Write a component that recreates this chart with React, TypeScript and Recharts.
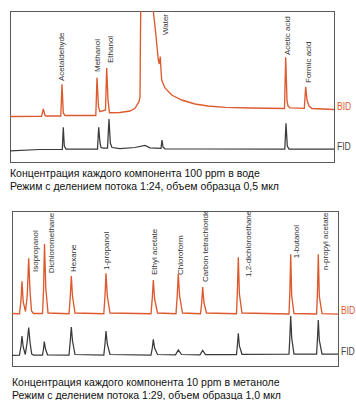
import { LineChart, Line, XAxis, YAxis, LabelList } from 'recharts';

// retention position (t) vs detector signal (s)
const waterBid: [number, number][] = [
  [0, 45.5], [31.5, 45.7], [33.3, 53], [35, 46.5], [36, 46],
  [50.8, 46], [52, 77.7], [53.3, 49], [55, 46.5],
  [85.8, 46.5], [87, 84.3], [88.5, 55], [90, 50.3], [95.5, 52], [96.7, 94], [98, 62], [99.5, 49.3],
  [110, 49.5], [120, 51], [125, 53.7], [129, 60.3], [130, 65], [130.5, 130], [136.5, 662], [143.4, 150],
  [145.7, 129], [148.3, 102], [149.3, 98], [150.3, 105.5], [151, 92], [151.7, 82], [155, 74],
  [161.7, 67], [171.7, 62], [185, 58], [198, 56], [215, 54.7], [240, 54],
  [274.5, 53.5], [275.7, 104.7], [277, 61], [278, 56], [280, 54.2],
  [294.3, 53.7], [295.7, 75.3], [297, 62], [299, 56], [302, 53.5], [324, 52.5],
];

const waterFid: [number, number][] = [
  [0, 11], [30, 12.5], [52.3, 12.7], [53.3, 34.7], [54.3, 16], [56, 13],
  [87.5, 13], [88.7, 34.7], [90, 19], [91, 14.5], [93, 14], [97.5, 14], [99, 43], [100.3, 19], [102, 14.5],
  [110, 13.5], [125, 14.5], [135, 16.5], [140, 14.2], [151, 13.7], [152, 22], [153, 15], [155, 13.2],
  [190, 13], [274.8, 13], [276, 38.7], [277.3, 16], [279, 13], [324, 13],
];

const waterPeaks = ['Acetaldehyde', 'Methanol', 'Ethanol', 'Water', 'Acetic acid', 'Formic acid'];
const waterPeakT = [51.5, 87, 100, 155, 277, 298];
const waterPeakS = [81, 90, 99, 127, 107, 79];

const methanolBid: [number, number][] = [
  [0, 52.5], [7.5, 52.3], [9, 66], [10, 84.7], [11.2, 64], [13.5, 54.5],
  [15.2, 70], [16.7, 107.7], [18, 75], [19.5, 55], [21.5, 52.5],
  [30.5, 52.5], [31.5, 75], [32.5, 122], [33.8, 78], [36, 53],
  [57, 52.3], [58.2, 68], [59.3, 90], [60.5, 70], [63, 53],
  [91.8, 52.3], [93, 70], [94, 92.7], [95.3, 70], [98, 53],
  [139, 52.3], [140.3, 68], [141.3, 86], [142.6, 67], [145.5, 53],
  [164, 52.3], [165.2, 70], [166.3, 92], [167.6, 70], [170.5, 53],
  [188.5, 52.3], [189.7, 63], [190.7, 79], [192, 63], [194.5, 53],
  [224.5, 52.3], [225.4, 75], [226.3, 108.7], [227.4, 72], [230, 53],
  [277, 52], [277.9, 75], [278.7, 111.7], [279.7, 70], [282, 52.5],
  [304.6, 52], [305.5, 75], [306.3, 111.7], [307.3, 70], [310, 52.3], [326, 51.8],
];

const methanolFid: [number, number][] = [
  [0, 10.5], [7.5, 10.8], [9, 20], [10, 30], [11.2, 19], [13.3, 11.5],
  [15.2, 24], [16.7, 38.5], [18, 24], [19.7, 12], [21.5, 11],
  [30.5, 11], [31.5, 17], [32.3, 24.5], [33.5, 17], [35.5, 11.2],
  [57, 11], [58.2, 24], [59.3, 39], [60.5, 25], [63, 11.5],
  [91.8, 11], [93, 22], [94, 35], [95.3, 22], [98, 11.5],
  [139, 11], [140.3, 18], [141.3, 26.7], [142.6, 18], [145.5, 11.5],
  [163.5, 11.2], [166.3, 16], [169.5, 11.5],
  [188, 11.2], [190.7, 15.7], [193.5, 11.5],
  [224.5, 11.5], [225.4, 21], [226.3, 32.7], [227.4, 20], [230, 11.7],
  [277, 11.8], [277.9, 30], [278.7, 50], [279.7, 28], [282, 12],
  [304.6, 12], [305.5, 28], [306.3, 46], [307.3, 26], [310, 12], [326, 12],
];

const methanolPeaks = [
  'Isopropanol', 'Dichloromethane', 'Hexane', '1-propanol', 'Ethyl acetate',
  'Chloroform', 'Carbon tetrachloride', '1,2-dichloroethane', '1-butanol', 'n-propyl acetate',
];
const methanolPeakT = [23, 39.3, 61.5, 94.3, 142.3, 168, 193, 236.5, 284.7, 313.5];
const methanolPeakS = [94, 92.7, 94, 96, 91, 91, 84, 89, 107.7, 96];

const BID = '#dc5a2e';
const FID = '#3c3a38';
const FONT = 'Arial, "Liberation Sans", sans-serif';

const toPoints = (pts: [number, number][]) => pts.map(([t, s]) => ({ t, s }));

const PeakName = (props: any) => {
  const { x, y, value } = props;
  return (
    <text
      x={x}
      y={y}
      transform={`rotate(-90, ${x}, ${y})`}
      textAnchor="start"
      dominantBaseline="central"
      fontSize={8}
      fontFamily={FONT}
      fill="#333"
    >
      {value}
    </text>
  );
};

interface PanelProps {
  left: number;
  top: number;
  width: number;
  height: number;
  bid: [number, number][];
  fid: [number, number][];
  names: string[];
  nameT: number[];
  nameS: number[];
  bidY: number;
  fidY: number;
  captionTop: number;
  caption: string[];
}

function Panel({ left, top, width, height, bid, fid, names, nameT, nameS, bidY, fidY, captionTop, caption }: PanelProps) {
  const labels = names.map((name, i) => ({ name, t: nameT[i], s: nameS[i] }));
  return (
    <>
      <div
        style={{
          position: 'absolute',
          left,
          top,
          width: width + 1,
          height: height + 1,
          border: '1px solid #5a5a5a',
          boxSizing: 'border-box',
        }}
      />
      <div style={{ position: 'absolute', left, top }}>
        <LineChart width={width} height={height} margin={{ top: 0, right: 0, bottom: 0, left: 0 }}>
          <XAxis type="number" dataKey="t" domain={[0, width]} allowDataOverflow hide />
          <YAxis type="number" dataKey="s" domain={[0, height]} allowDataOverflow hide />
          <Line data={toPoints(fid)} dataKey="s" stroke={FID} strokeWidth={1.25} dot={false} isAnimationActive={false} />
          <Line data={toPoints(bid)} dataKey="s" stroke={BID} strokeWidth={1.35} dot={false} isAnimationActive={false} />
          <Line data={labels} dataKey="s" stroke="none" dot={false} activeDot={false} isAnimationActive={false}>
            <LabelList dataKey="name" content={PeakName} />
          </Line>
        </LineChart>
      </div>
      <div style={{ position: 'absolute', left: left + width + 3, top: bidY - 7, fontFamily: FONT, fontSize: 11, color: BID, transform: 'scaleX(0.78)', transformOrigin: 'left' }}>
        BID
      </div>
      <div style={{ position: 'absolute', left: left + width + 3, top: fidY - 7, fontFamily: FONT, fontSize: 11, color: '#444', transform: 'scaleX(0.78)', transformOrigin: 'left' }}>
        FID
      </div>
      <div style={{ position: 'absolute', left, top: captionTop, fontFamily: FONT, fontSize: 10.5, lineHeight: '13px', color: '#111', whiteSpace: 'nowrap' }}>
        {caption.map((c) => (
          <div key={c}>{c}</div>
        ))}
      </div>
    </>
  );
}

export default function App() {
  return (
    <div style={{ position: 'absolute', left: 0, top: 0, width: 356, height: 400, background: '#fff' }}>
      <Panel
        left={10}
        top={11}
        width={324}
        height={151}
        bid={waterBid}
        fid={waterFid}
        names={waterPeaks}
        nameT={waterPeakT}
        nameS={waterPeakS}
        bidY={107}
        fidY={147}
        captionTop={166.5}
        caption={[
          'Концентрация каждого компонента 100 ppm в воде',
          'Режим с делением потока 1:24, объем образца 0,5 мкл',
        ]}
      />
      <Panel
        left={12}
        top={211}
        width={326}
        height={155}
        bid={methanolBid}
        fid={methanolFid}
        names={methanolPeaks}
        nameT={methanolPeakT}
        nameS={methanolPeakS}
        bidY={311}
        fidY={352}
        captionTop={375.5}
        caption={[
          'Концентрация каждого компонента 10 ppm в метаноле',
          'Режим с делением потока 1:29, объем образца 1,0 мкл',
        ]}
      />
    </div>
  );
}
